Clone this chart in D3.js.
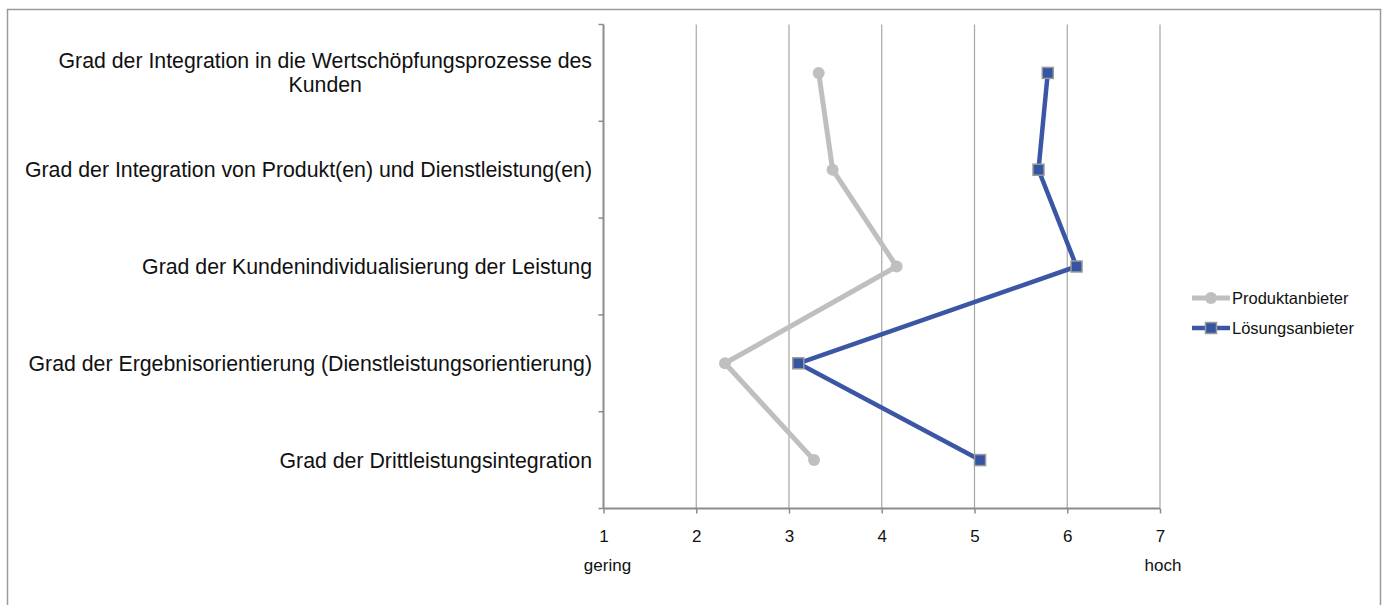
<!DOCTYPE html>
<html><head><meta charset="utf-8">
<script src="https://cdn.jsdelivr.net/npm/d3@7"></script>
<style>
html,body{margin:0;padding:0;background:#fff;}
svg text{font-family:"Liberation Sans",Arial,sans-serif;fill:#111;}
</style></head>
<body><svg id="c" width="1386" height="605"></svg>
<script>
const categories = [
  ["Grad der Integration in die Wertschöpfungsprozesse des", "Kunden"],
  ["Grad der Integration von Produkt(en) und Dienstleistung(en)"],
  ["Grad der Kundenindividualisierung der Leistung"],
  ["Grad der Ergebnisorientierung (Dienstleistungsorientierung)"],
  ["Grad der Drittleistungsintegration"]
];
const seriesNames = ["Produktanbieter", "Lösungsanbieter"];
const produktanbieter = [3.32, 3.47, 4.16, 2.31, 3.27];
const loesungsanbieter = [5.79, 5.69, 6.10, 3.10, 5.06];
const xTicks = [1, 2, 3, 4, 5, 6, 7];
const axisEndLabels = ["gering", "hoch"];

const svg = d3.select("#c");
const M = {left: 603.5, right: 1160, top: 24.5, bottom: 508.5};
const labelFont = 21.3;

// outer frame
svg.append("rect").attr("x", 7.5).attr("y", 9.5).attr("width", 1373).attr("height", 610)
  .attr("fill", "none").attr("stroke", "#9a9a9a").attr("stroke-width", 1.5);

const x = d3.scaleLinear().domain([1, 7]).range([M.left, M.right]);
const y = d3.scaleBand().domain(d3.range(categories.length)).range([M.top, M.bottom]);

// vertical gridlines
svg.append("g").selectAll("line").data(xTicks.slice(1)).join("line")
  .attr("x1", d => x(d)).attr("x2", d => x(d))
  .attr("y1", M.top).attr("y2", M.bottom)
  .attr("stroke", "#a6a6a6").attr("stroke-width", 1.2);

// bottom axis
const xAxis = svg.append("g").attr("transform", `translate(0,${M.bottom})`)
  .call(d3.axisBottom(x).tickValues(xTicks).tickFormat(d3.format("d")).tickSize(5).tickPadding(16));
xAxis.select(".domain").attr("stroke", "#8c8c8c").attr("stroke-width", 2).attr("d", `M${M.left},0H${M.right}`);
xAxis.selectAll(".tick line").attr("stroke", "#8c8c8c").attr("stroke-width", 1.5);
xAxis.selectAll(".tick text").attr("font-size", 17).attr("fill", "#111")
  .style("font-family", '"Liberation Sans",Arial,sans-serif');

// left axis with ticks at band boundaries
const yEdges = d3.range(categories.length + 1).map(i => M.top + i * y.step());
svg.append("line").attr("x1", M.left).attr("x2", M.left).attr("y1", M.top).attr("y2", M.bottom)
  .attr("stroke", "#8c8c8c").attr("stroke-width", 2);
svg.append("g").selectAll("line").data(yEdges).join("line")
  .attr("x1", M.left - 5).attr("x2", M.left).attr("y1", d => d).attr("y2", d => d)
  .attr("stroke", "#8c8c8c").attr("stroke-width", 1.5);

// category labels
const labelG = svg.append("g");
categories.forEach((lines, i) => {
  const cy = y(i) + y.bandwidth() / 2;
  const lh = 24;
  const rightX = 592;
  const first = labelG.append("text").attr("font-size", labelFont).attr("text-anchor", "end")
    .attr("x", rightX).attr("y", cy - (lines.length - 1) * lh / 2).attr("dy", "0.35em").text(lines[0]);
  if (lines.length > 1) {
    const w = first.node().getComputedTextLength();
    const cx = rightX - w / 2;
    first.attr("text-anchor", "middle").attr("x", cx);
    lines.slice(1).forEach((ln, j) => {
      labelG.append("text").attr("font-size", labelFont).attr("text-anchor", "middle")
        .attr("x", cx).attr("y", cy - (lines.length - 1) * lh / 2 + (j + 1) * lh)
        .attr("dy", "0.35em").text(ln);
    });
  }
});

// axis end labels
svg.append("text").attr("x", x(1) + 4).attr("y", 571).attr("text-anchor", "middle")
  .attr("font-size", 17).text(axisEndLabels[0]);
svg.append("text").attr("x", x(7) + 3).attr("y", 571).attr("text-anchor", "middle")
  .attr("font-size", 17).text(axisEndLabels[1]);

const cy = i => y(i) + y.bandwidth() / 2;
const line = d3.line().x(d => x(d[0])).y(d => cy(d[1]));

const grayC = "#bfbfbf", blueC = "#3b56a4";
// Produktanbieter
svg.append("path").datum(produktanbieter.map((v, i) => [v, i]))
  .attr("d", line).attr("fill", "none").attr("stroke", grayC).attr("stroke-width", 5).attr("stroke-linejoin", "round");
svg.append("g").selectAll("circle").data(produktanbieter).join("circle")
  .attr("cx", d => x(d)).attr("cy", (d, i) => cy(i)).attr("r", 6).attr("fill", grayC);
// Lösungsanbieter
svg.append("path").datum(loesungsanbieter.map((v, i) => [v, i]))
  .attr("d", line).attr("fill", "none").attr("stroke", blueC).attr("stroke-width", 4.5).attr("stroke-linejoin", "round");
const sq = 11;
svg.append("g").selectAll("rect").data(loesungsanbieter).join("rect")
  .attr("x", d => x(d) - sq / 2).attr("y", (d, i) => cy(i) - sq / 2)
  .attr("width", sq).attr("height", sq).attr("fill", "#3555a3").attr("stroke", "#9a9a9a").attr("stroke-width", 1.5);

// legend
const lg = svg.append("g").attr("transform", "translate(1192,298)");
seriesNames.forEach((nm, i) => {
  const g = lg.append("g").attr("transform", `translate(0,${i * 30})`);
  g.append("line").attr("x1", 0).attr("x2", 38).attr("y1", 0).attr("y2", 0)
    .attr("stroke", i === 0 ? grayC : blueC).attr("stroke-width", i === 0 ? 5 : 4.5);
  if (i === 0) g.append("circle").attr("cx", 19).attr("cy", 0).attr("r", 6).attr("fill", grayC);
  else g.append("rect").attr("x", 19 - sq / 2).attr("y", -sq / 2).attr("width", sq).attr("height", sq)
    .attr("fill", "#3555a3").attr("stroke", "#9a9a9a").attr("stroke-width", 1.5);
  g.append("text").attr("x", 40).attr("y", 0).attr("dy", "0.35em").attr("font-size", 16.5).text(nm);
});
</script></body></html>
